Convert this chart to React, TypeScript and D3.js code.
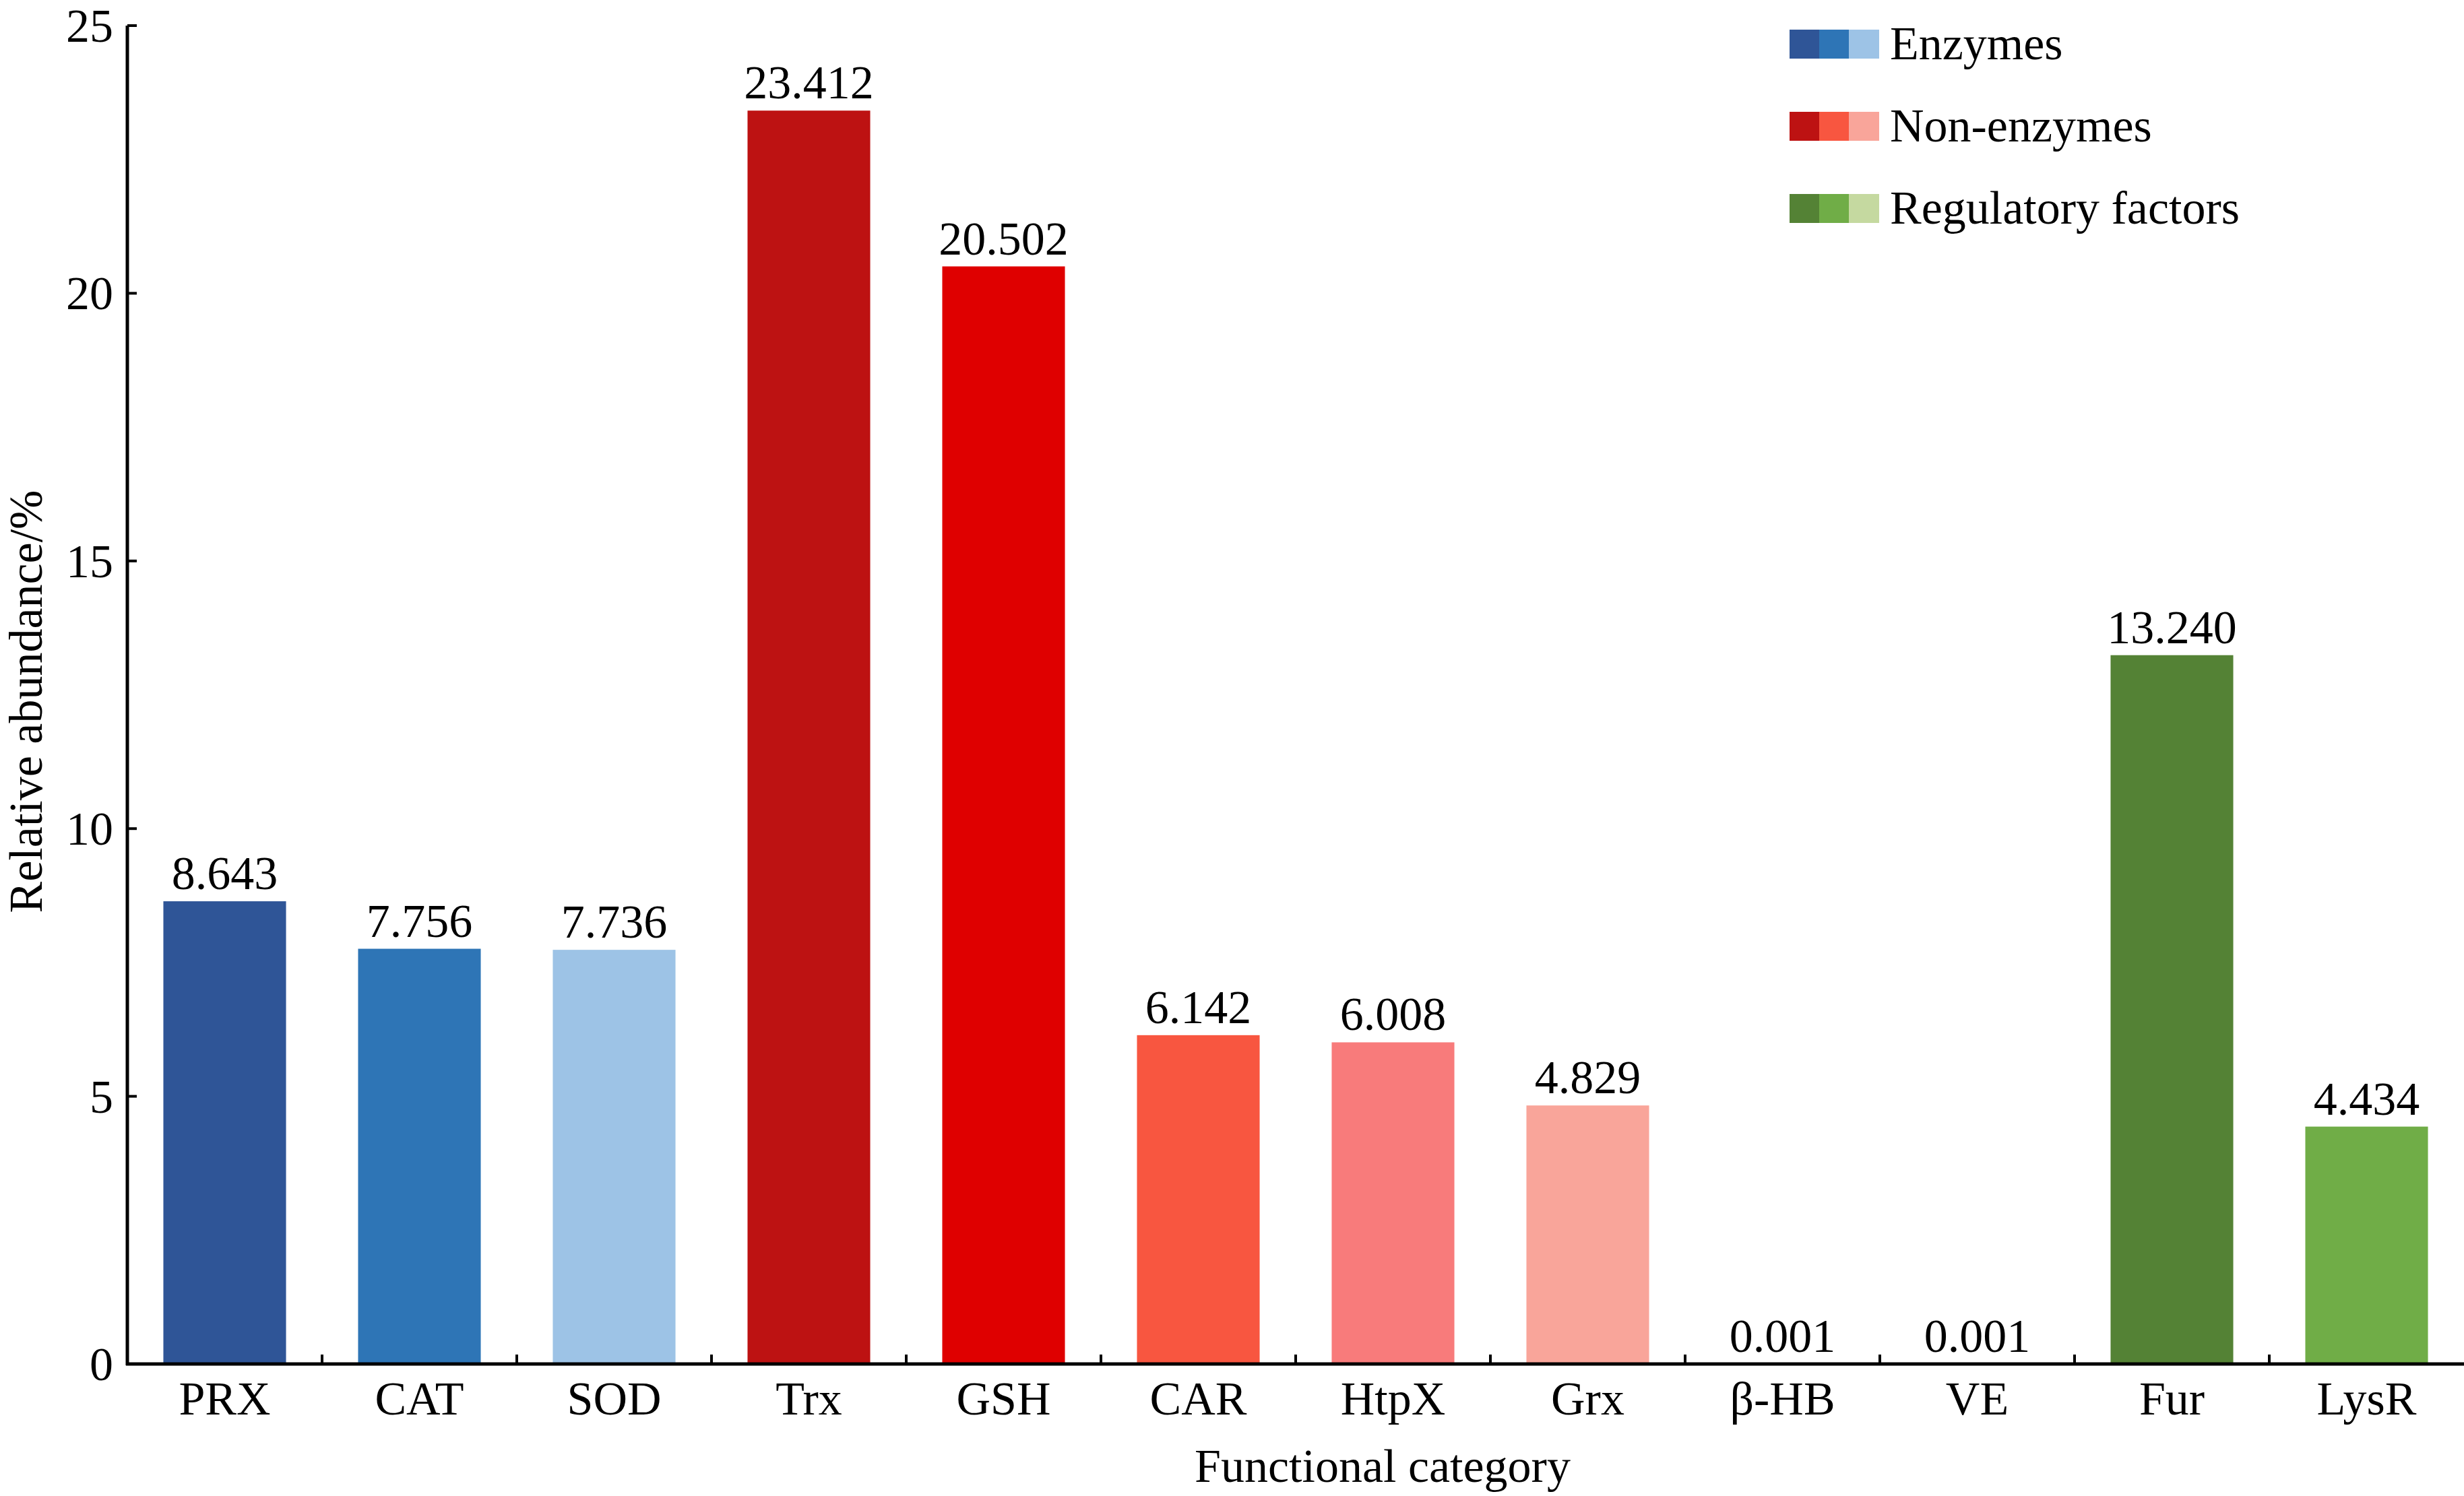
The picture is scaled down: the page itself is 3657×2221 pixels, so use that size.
import React from "react";
import * as d3 from "d3";

const categories = ["PRX","CAT","SOD","Trx","GSH","CAR","HtpX","Grx","β-HB","VE","Fur","LysR"];
const values = [8.643,7.756,7.736,23.412,20.502,6.142,6.008,4.829,0.001,0.001,13.24,4.434];
const valueLabels = ["8.643","7.756","7.736","23.412","20.502","6.142","6.008","4.829","0.001","0.001","13.240","4.434"];
const colors = ["#2f5597","#2e75b6","#9dc3e6","#bd1212","#df0000","#f85640","#f87b7b","#f9a59a","#f9a59a","#f9a59a","#548235","#70ad47"];
const yTicks = [0,5,10,15,20,25];
const legendNames = ["Enzymes","Non-enzymes","Regulatory factors"];
const legendColors = [["#2f5597","#2e75b6","#9dc3e6"],["#bd1212","#f85640","#f9a59a"],["#548235","#70ad47","#c5d9a0"]];

export default function App() {
  const W = 3657, H = 2221;
  const left = 189, right = 3657, top = 38, bottom = 2025;
  const x = d3.scaleBand().domain(categories).range([left, right]).paddingInner(0.37).paddingOuter(0.185);
  const y = d3.scaleLinear().domain([0, 25]).range([bottom, top]);
  const step = x.step();
  const ts: React.CSSProperties = { fontFamily: "Liberation Serif, DejaVu Serif, serif", fontSize: 70 };
  return (
    <svg width={W} height={H} style={{ position: "absolute", left: 0, top: 0, background: "#fff" }}>
      {categories.map((c, i) => (
        <g key={c}>
          <rect x={x(c)} y={y(values[i])} width={x.bandwidth()} height={Math.max(bottom - y(values[i]), 2)} fill={colors[i]} />
          <text x={x(c)! + x.bandwidth() / 2} y={y(values[i]) - 18} textAnchor="middle" style={ts}>{valueLabels[i]}</text>
          <text x={x(c)! + x.bandwidth() / 2} y={2100} textAnchor="middle" style={ts}>{c}</text>
        </g>
      ))}
      {categories.slice(1).map((c) => (
        <line key={"t" + c} x1={x(c)! - (step - x.bandwidth()) / 2} x2={x(c)! - (step - x.bandwidth()) / 2} y1={bottom} y2={bottom - 14} stroke="#000" strokeWidth={4} />
      ))}
      {yTicks.map(t => (
        <g key={t}>
          <line x1={left} x2={left + 14} y1={y(t)} y2={y(t)} stroke="#000" strokeWidth={4} />
          <text x={168} y={y(t) + 24} textAnchor="end" style={ts}>{t}</text>
        </g>
      ))}
      <line x1={left} x2={left} y1={top} y2={bottom + 2} stroke="#000" strokeWidth={5} />
      <line x1={left - 2} x2={right} y1={bottom} y2={bottom} stroke="#000" strokeWidth={5} />
      <text transform={`translate(62,${(top + bottom) / 2 + 10}) rotate(-90)`} textAnchor="middle" style={ts}>Relative abundance/%</text>
      <text x={2052} y={2200} textAnchor="middle" style={ts}>Functional category</text>
      {legendNames.map((n, i) => (
        <g key={n}>
          {legendColors[i].map((col, j) => (
            <rect key={j} x={2656 + j * 44} y={44 + i * 122} width={45} height={43} fill={col} />
          ))}
          <text x={2805} y={88 + i * 122} style={ts}>{n}</text>
        </g>
      ))}
    </svg>
  );
}
